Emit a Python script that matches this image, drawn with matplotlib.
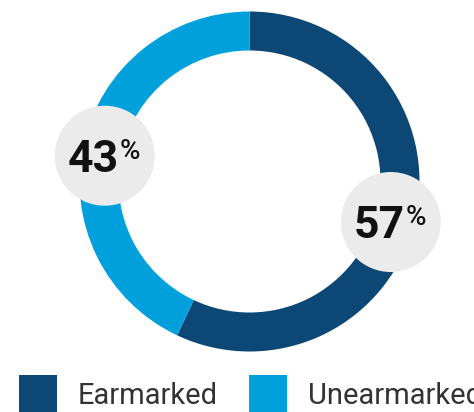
import numpy as np
import matplotlib
matplotlib.use("Agg")
import matplotlib.pyplot as plt
from matplotlib.patches import Circle, Rectangle

categories = ["Earmarked", "Unearmarked"]
values = [57, 43]
colors = ["#0c4775", "#00a0dc"]

W, H = 474, 412
fig = plt.figure(figsize=(W / 100, H / 100), dpi=100)
ax = fig.add_axes([0, 0, 1, 1])

cx, cy = 249.5, H - 181.5
R, ring = 170, 39
wedges, _ = ax.pie(values, colors=colors, startangle=90, counterclock=False,
                   radius=R, center=(cx, cy), frame=True,
                   wedgeprops=dict(width=ring, linewidth=0))
ax.set_xlim(0, W)
ax.set_ylim(0, H)
ax.set_aspect("equal")
ax.axis("off")

# labels near segment midpoints
start = 90
rmid = 147
for i, v in enumerate(values):
    span = v / sum(values) * 360
    mid = np.deg2rad(start - span / 2 + (-3.4 if i == 0 else 2.5))
    start -= span
    lx, ly = cx + rmid * np.cos(mid), cy + rmid * np.sin(mid)
    ax.add_patch(Circle((lx, ly), 50, facecolor="#ebebeb", edgecolor="none", zorder=5))
    ax.text(lx + 14, ly - 16, f"{v}", ha="right", va="baseline", fontsize=32,
            fontweight="bold", family="Roboto", color="#111111", zorder=6)
    ax.text(lx + 14.5, ly + 18, "%", ha="left", va="top", fontsize=20,
            fontweight="medium", family="Roboto", color="#111111", zorder=6)

# legend
lx0 = [19, 249]
for i, (c, col) in enumerate(zip(categories, colors)):
    ax.add_patch(Rectangle((lx0[i], -5), 38, H - 375 + 5, facecolor=col,
                           edgecolor="none", clip_on=False))
    ax.text(lx0[i] + 59, H - 404.5, c, ha="left", va="baseline", fontsize=21,
            family="Roboto", fontweight="normal", color="#333333")

fig.savefig("out.png", dpi=100)
